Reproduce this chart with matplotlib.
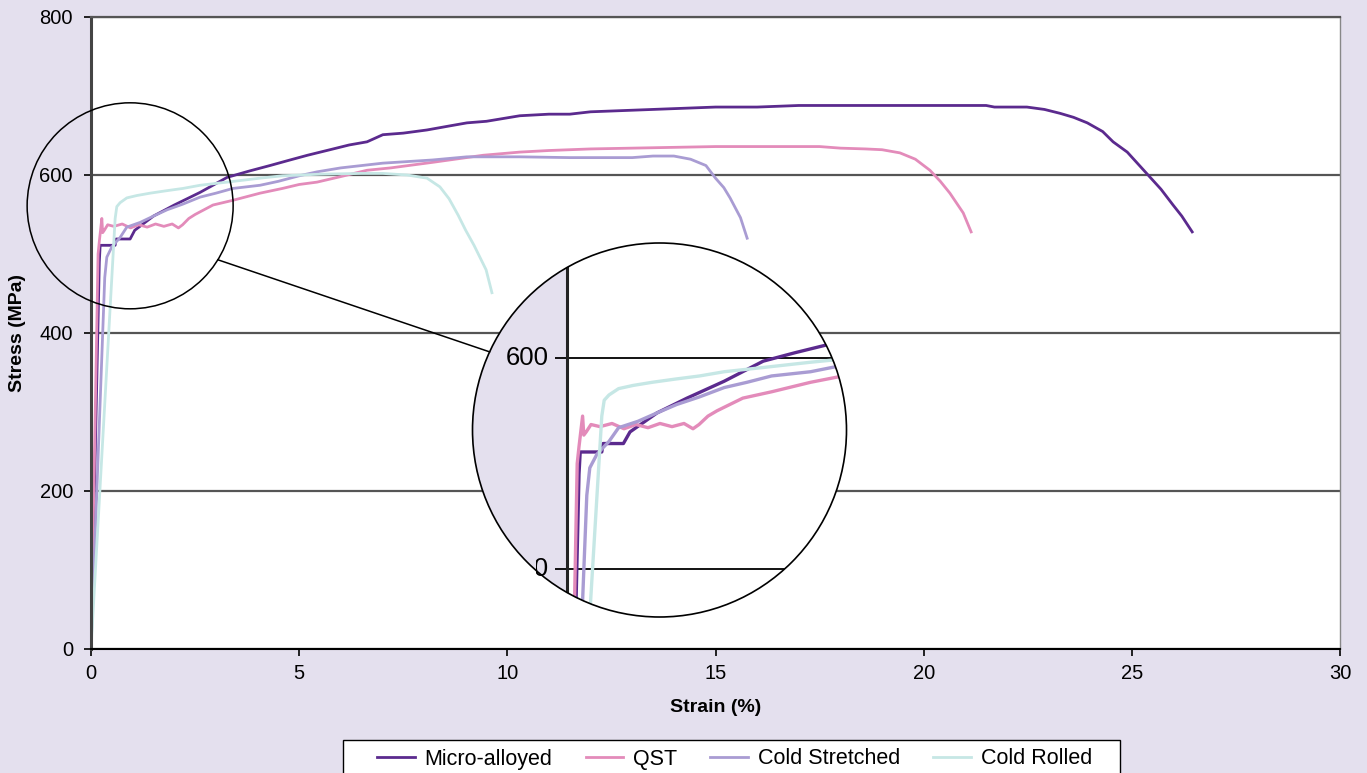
import numpy as np
import matplotlib
matplotlib.use("Agg")
import matplotlib.pyplot as plt
from matplotlib import patches
from matplotlib.lines import Line2D
from matplotlib.transforms import Bbox

# ---------------- data ----------------
micro_strain = [0, 0.2, 0.22, 0.58, 0.6, 0.94, 1.05, 1.5, 2.0, 2.62, 3.27, 3.8, 4.3, 4.78, 5.2, 5.74,
                6.2, 6.63, 7.01, 7.5, 8.07, 8.6, 9.03, 9.5, 10.3, 11.0, 11.5, 12.0, 13.0, 14.0, 15.0,
                16.0, 17.0, 18.0, 19.0, 20.0, 21.5, 21.7, 22.48, 22.9, 23.28, 23.6, 23.93, 24.3,
                24.55, 24.89, 25.39, 25.7, 25.99, 26.2, 26.45]
micro_stress = [0, 490, 511, 511, 519, 519, 530, 548, 562, 578, 597, 605, 612, 619, 625, 632,
                638, 642, 651, 653, 657, 662, 666, 668, 675, 677, 677, 680, 682, 684, 686,
                686, 688, 688, 688, 688, 688, 686, 686, 683, 678, 673, 666, 655,
                642, 629, 600, 582, 562, 548, 528]

qst_strain = [0, 0.17, 0.2, 0.26, 0.28, 0.32, 0.4, 0.55, 0.75, 0.95, 1.15, 1.35, 1.55, 1.75, 1.95,
              2.1, 2.2, 2.35, 2.5, 2.93, 3.41, 4.06, 4.6, 5.0, 5.43, 6.0, 6.63, 7.2, 8.2, 9.42,
              10.3, 11.0, 12.0, 13.0, 14.0, 15.0, 16.0, 17.0, 17.5, 18.0, 18.6, 19.0, 19.43,
              19.8, 20.15, 20.4, 20.63, 20.95, 21.14]
qst_stress = [0, 500, 516, 545, 527, 530, 537, 535, 538, 533, 537, 534, 538, 535, 538,
              533, 537, 545, 550, 562, 568, 577, 583, 588, 591, 598, 606, 609, 616, 625,
              629, 631, 633, 634, 635, 636, 636, 636, 636, 634, 633, 632, 628,
              620, 606, 592, 577, 552, 528]

stretched_strain = [0, 0.33, 0.38, 0.5, 0.7, 0.86, 1.18, 1.5, 1.83, 2.2, 2.62, 3.0, 3.41, 4.06,
                    4.5, 5.0, 5.43, 6.0, 7.01, 8.2, 9.03, 10.3, 11.5, 12.5, 13.0, 13.5, 14.0,
                    14.4, 14.77, 15.0, 15.2, 15.35, 15.6, 15.76]
stretched_stress = [0, 470, 496, 509, 521, 534, 540, 548, 556, 563, 572, 577, 583, 587,
                    592, 599, 604, 609, 615, 619, 623, 623, 622, 622, 622, 624, 624,
                    620, 612, 596, 584, 571, 546, 520]

rolled_strain = [0, 0.5, 0.58, 0.62, 0.7, 0.86, 1.1, 1.42, 1.8, 2.21, 2.62, 3.27, 4.06, 4.6,
                 5.5, 6.5, 7.01, 7.59, 8.07, 8.38, 8.6, 8.82, 9.0, 9.2, 9.49, 9.63]
rolled_stress = [0, 470, 545, 560, 565, 571, 574, 577, 580, 583, 587, 591, 596, 599,
                 601, 602, 602, 600, 596, 585, 570, 549, 530, 511, 480, 451]

series_names = ["Micro-alloyed", "QST", "Cold Stretched", "Cold Rolled"]
series_colors = ["#5B2A8E", "#E38BBA", "#A99CD3", "#C6E7E5"]
series_data = [(micro_strain, micro_stress), (qst_strain, qst_stress),
               (stretched_strain, stretched_stress), (rolled_strain, rolled_stress)]

x_ticks = [0, 5, 10, 15, 20, 25, 30]
y_ticks = [0, 200, 400, 600, 800]
inset_ticks = [400, 600]

# ---------------- style ----------------
BG = "#E4E0EE"
GRID = "#555555"
FONT = ["Liberation Sans", "DejaVu Sans"]
plt.rcParams["font.family"] = FONT

W, H = 1367, 773
fig = plt.figure(figsize=(W / 100, H / 100), dpi=100, facecolor=BG)

ax = fig.add_axes([91 / W, (H - 649) / H, 1249 / W, 632 / H])
ax.set_facecolor("white")
ax.set_xlim(0, 30)
ax.set_ylim(0, 800)
ax.set_xticks(x_ticks)
ax.set_yticks(y_ticks)
ax.tick_params(axis="both", labelsize=14.5, length=5, width=1.2, direction="out", colors="black")
ax.tick_params(axis="y", pad=8)
ax.tick_params(axis="x", pad=6)
ax.yaxis.grid(True, color=GRID, lw=1.6)
ax.set_axisbelow(True)
ax.spines["left"].set_color("#444444"); ax.spines["left"].set_linewidth(2.2)
ax.spines["bottom"].set_color("black"); ax.spines["bottom"].set_linewidth(1.5)
ax.spines["top"].set_color(GRID); ax.spines["top"].set_linewidth(1.6)
ax.spines["right"].set_color("#888888"); ax.spines["right"].set_linewidth(1.0)

ax.set_xlabel("Strain (%)", fontsize=14, fontweight="bold")
ax.set_ylabel("Stress (MPa)", fontsize=14, fontweight="bold")
ax.xaxis.set_label_coords(0.5, -0.079)
ax.yaxis.set_label_coords(-0.0585, 0.5)
ax.yaxis.label.set_va("center")

handles = []
for (xs, ys), c, n in zip(series_data, series_colors, series_names):
    ln, = ax.plot(xs, ys, color=c, lw=2.0, label=n, solid_joinstyle="round")
    handles.append(ln)

# ---------------- zoom circle + inset ----------------
zoom_center = (0.94, 561)      # data coordinates of the magnified spot
zoom_r_px = 103
inset_c_px = (659.5, 430)       # pixel (from top-left) centre of the magnifier
inset_r_px = 187

fig.canvas.draw()
zc = ax.transData.transform(zoom_center)
zfx, zfy = zc[0] / W, zc[1] / H
small = patches.Ellipse((zfx, zfy), 2 * zoom_r_px / W, 2 * zoom_r_px / H,
                        transform=fig.transFigure, fill=False, ec="black", lw=1.1, zorder=20)
fig.patches.append(small)

icx, icy = inset_c_px[0] / W, (H - inset_c_px[1]) / H
a1 = np.deg2rad(-31.6)
a2 = np.deg2rad(155.3)
p1 = (zfx + zoom_r_px * np.cos(a1) / W, zfy + zoom_r_px * np.sin(a1) / H)
p2 = (icx + inset_r_px * np.cos(a2) / W, icy + inset_r_px * np.sin(a2) / H)
fig.lines.append(Line2D([p1[0], p2[0]], [p1[1], p2[1]], transform=fig.transFigure,
                        color="black", lw=1.1, zorder=20))

axi = fig.add_axes([icx - inset_r_px / W, icy - inset_r_px / H, 2 * inset_r_px / W, 2 * inset_r_px / H])
axi.set_axis_off()
ix0 = -94.5 / 60
axi.set_xlim(ix0, ix0 + 2 * inset_r_px / 60)
iy0 = 600 - 259 / 1.056
axi.set_ylim(iy0, iy0 + 2 * inset_r_px / 1.056)

clip = patches.Circle((0.5, 0.5), 0.5, transform=axi.transAxes, fc=BG, ec="none", zorder=0)
axi.add_patch(clip)
white = patches.Rectangle((0, iy0 - 10), 20, 1000, fc="white", ec="none", zorder=1)
axi.add_patch(white)
white.set_clip_path(clip)

hl = axi.hlines(inset_ticks, -0.2, 20, colors="black", lw=1.3, zorder=2)
hl.set_clip_path(clip)
vl = axi.axvline(0, color="#222222", lw=2.2, zorder=3)
vl.set_clip_path(clip)
for (xs, ys), c in zip(series_data, series_colors):
    ln, = axi.plot(xs, ys, color=c, lw=2.4, zorder=4, solid_joinstyle="round")
    ln.set_clip_path(clip)

fig.canvas.draw()
cx_d, cy_d = icx * W, icy * H
for t in inset_ticks:
    txt = axi.text(-0.3, t, f"{t}", ha="right", va="center", fontsize=18.5, zorder=5)
    yd = axi.transData.transform((0, t))[1]
    dy = yd - cy_d
    x_edge = cx_d - np.sqrt(max(inset_r_px ** 2 - dy ** 2, 0))
    txt.set_clip_on(True)
    txt.set_clip_box(Bbox.from_extents(x_edge + 1, 0, W, H))

outline = patches.Circle((0.5, 0.5), 0.5, transform=axi.transAxes, fill=False, ec="black",
                         lw=1.2, zorder=10, clip_on=False)
axi.add_patch(outline)

# ---------------- legend ----------------
frame = patches.Rectangle((343 / W, -0.05), (1120 - 343) / W, 0.05 + (H - 740) / H,
                          transform=fig.transFigure, fc="white", ec="black", lw=1.0, zorder=1)
fig.patches.append(frame)
leg = fig.legend(handles=handles, labels=series_names, loc="center left",
                 bbox_to_anchor=(377 / W, 1 - 759 / H), ncol=4, fontsize=15.5,
                 frameon=False, handlelength=1.75, handletextpad=0.45, columnspacing=1.55,
                 borderpad=0, borderaxespad=0)
leg.set_zorder(5)

fig.savefig("out.png", dpi=100, facecolor=BG)
